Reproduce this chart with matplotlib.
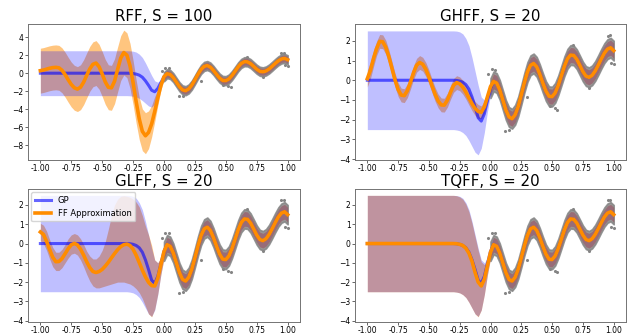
import numpy as np
import matplotlib
matplotlib.use('Agg')
import matplotlib.pyplot as plt

# grid: left half (no data) and right half (observed data)
x_left = np.linspace(-1, 0, 41)
x_right = np.linspace(0.025, 1, 40)

# shared posterior mean / data trend for x > 0
fit_right = [-0.06, -0.14, -0.49, -1.0, -1.51, -1.86, -1.95, -1.75, -1.33, -0.74,
             -0.12, 0.42, 0.76, 0.85, 0.68, 0.31, -0.14, -0.55, -0.81, -0.83,
             -0.64, -0.26, 0.22, 0.71, 1.09, 1.28, 1.26, 1.07, 0.76, 0.44,
             0.21, 0.15, 0.25, 0.47, 0.77, 1.09, 1.38, 1.58, 1.65, 1.5]
band_right = 0.38
cloud_spread = 0.5

# GP on the left half
gp_mean_left = [0] * 29 + [-0.01, -0.04, -0.1, -0.22, -0.45, -0.85, -1.35, -1.9,
                           -2.07, -1.7, -1.05, -0.4]
gp_hi_left = [2.5] * 29 + [2.49, 2.45, 2.35, 2.12, 1.75, 1.15, 0.45, -0.25,
                           -0.85, -1.0, -0.75, -0.1]
gp_lo_left = [-2.5] * 29 + [-2.52, -2.56, -2.65, -2.8, -3.05, -3.35, -3.65, -3.78,
                            -3.45, -2.65, -1.6, -0.75]

# feature approximations on the left half
rff_mean = [0.28, 0.35, 0.45, 0.55, 0.62, 0.65, 0.6, 0.32, -0.16, -0.73,
            -1.26, -1.63, -1.77, -1.56, -1.0, -0.24, 0.49, 0.99, 1.13, 0.72,
            -0.08, -0.97, -1.57, -1.63, -0.89, 0.43, 1.68, 2.3, 2.0, 0.83,
            -1.05, -3.18, -5.1, -6.48, -6.97, -6.6, -5.65, -4.26, -2.74, -1.35, -0.39]
rff_hi = [2.78, 2.85, 2.95, 3.05, 3.12, 3.15, 3.1, 2.82, 2.34, 1.77,
          1.24, 0.87, 0.73, 0.94, 1.5, 2.26, 2.99, 3.49, 3.63, 3.22,
          2.42, 1.53, 0.93, 0.87, 1.61, 2.93, 4.18, 4.8, 4.5, 3.33,
          1.42, -0.78, -2.7, -3.98, -4.4, -4.2, -3.6, -2.6, -1.8, -0.85, -0.05]
rff_lo = [-2.22, -2.15, -2.05, -1.95, -1.88, -1.85, -1.9, -2.18, -2.66, -3.23,
          -3.76, -4.13, -4.27, -4.06, -3.5, -2.74, -2.01, -1.51, -1.37, -1.78,
          -2.58, -3.47, -4.07, -4.13, -3.39, -2.07, -0.82, -0.2, -0.5, -1.67,
          -3.5, -5.58, -7.4, -8.63, -8.97, -8.4, -7.1, -5.4, -3.6, -1.9, -0.75]

ghff_mean = [0.08, 0.5, 1.1, 1.6, 1.97, 1.95, 1.67, 1.19, 0.6, 0.01,
             -0.47, -0.75, -0.78, -0.53, -0.1, 0.38, 0.76, 0.9, 0.81, 0.55,
             0.17, -0.28, -0.71, -1.05, -1.25, -1.26, -1.01, -0.62, -0.26, -0.12,
             -0.18, -0.35, -0.6, -0.9, -1.19, -1.43, -1.58, -1.62, -1.35, -0.84, -0.32]
ghff_hi = [0.5, 0.92, 1.52, 1.97, 2.32, 2.3, 2.02, 1.54, 0.95, 0.36,
           -0.12, -0.4, -0.43, -0.18, 0.25, 0.73, 1.11, 1.25, 1.16, 0.9,
           0.52, 0.07, -0.36, -0.7, -0.9, -0.91, -0.66, -0.27, 0.09, 0.23,
           0.17, 0.0, -0.25, -0.55, -0.84, -1.08, -1.23, -1.3, -1.05, -0.54, -0.02]
ghff_lo = [-0.34, 0.08, 0.68, 1.25, 1.62, 1.6, 1.32, 0.84, 0.25, -0.34,
           -0.82, -1.1, -1.13, -0.88, -0.45, 0.03, 0.41, 0.55, 0.46, 0.2,
           -0.18, -0.63, -1.06, -1.4, -1.6, -1.61, -1.36, -0.97, -0.61, -0.47,
           -0.53, -0.7, -0.95, -1.25, -1.54, -1.78, -1.93, -1.94, -1.65, -1.14, -0.62]

glff_mean = [0.6, 0.47, 0.12, -0.31, -0.71, -0.94, -0.93, -0.78, -0.53, -0.27,
             -0.065, 0.01, -0.07, -0.29, -0.6, -0.95, -1.25, -1.45, -1.5, -1.45,
             -1.34, -1.17, -0.97, -0.74, -0.52, -0.32, -0.16, -0.06, -0.03, -0.1,
             -0.3, -0.61, -0.99, -1.38, -1.73, -2.01, -2.18, -2.2, -1.79, -1.09, -0.41]
glff_hi = [1.05, 0.95, 0.65, 0.2, -0.2, -0.45, -0.45, -0.3, -0.05, 0.25,
           0.45, 0.52, 0.45, 0.25, -0.05, -0.4, -0.65, -0.8, -0.8, -0.65,
           -0.35, 0.1, 0.75, 1.45, 2.0, 2.3, 2.45, 2.48, 2.45, 2.4,
           2.3, 2.15, 1.9, 1.45, 0.9, 0.45, -0.1, -0.85, -1.0, -0.7, -0.1]
glff_lo = [0.15, 0.0, -0.35, -0.8, -1.2, -1.4, -1.4, -1.25, -1.0, -0.75,
           -0.55, -0.5, -0.6, -0.85, -1.2, -1.6, -1.95, -2.2, -2.3, -2.3,
           -2.25, -2.2, -2.15, -2.1, -2.05, -2.0, -2.0, -2.0, -2.05, -2.1,
           -2.2, -2.35, -2.55, -2.85, -3.25, -3.65, -3.8, -3.4, -2.6, -1.6, -0.8]

tqff_mean = [0] * 29 + [-0.01, -0.04, -0.1, -0.24, -0.5, -0.92, -1.5, -2.0,
                        -2.2, -1.85, -1.15, -0.45]
tqff_hi = [2.5] * 29 + [2.48, 2.42, 2.3, 2.05, 1.65, 1.05, 0.35, -0.35,
                        -0.95, -1.1, -0.8, -0.2]
tqff_lo = [-2.5] * 29 + [-2.52, -2.56, -2.65, -2.8, -3.05, -3.35, -3.65, -3.8,
                         -3.45, -2.65, -1.65, -0.8]

# a few stray observations outside the main cloud
out_x = [-0.02, 0.01, 0.04, 0.12, 0.15, 0.3, 0.48, 0.52, 0.54, 0.67, 0.8, 0.95, 0.97, 0.98, 1.0]
out_y = [0.3, 0.55, 0.54, -2.55, -2.5, -0.85, -1.3, -1.4, -1.5, 1.8, -0.4, 2.24, 2.28, 0.88, 0.83]

titles = ['RFF, S = 100', 'GHFF, S = 20', 'GLFF, S = 20', 'TQFF, S = 20']
ff_means = [rff_mean, ghff_mean, glff_mean, tqff_mean]
ff_his = [rff_hi, ghff_hi, glff_hi, tqff_hi]
ff_los = [rff_lo, ghff_lo, glff_lo, tqff_lo]
ylims = [(-9.67, 5.48), (-4.04, 2.85), (-4.07, 2.83), (-4.07, 2.83)]

W, H = 627, 336
fig = plt.figure(figsize=(W / 100, H / 100), dpi=100)
# axes boxes in pixels: left, top, width, height
boxes = [(28, 24, 272, 136), (355, 24, 271, 136),
         (28, 189, 272, 133), (355, 189, 271, 133)]

x_all = np.concatenate([x_left, x_right])
fit_r = np.array(fit_right)
gp_mean = np.concatenate([gp_mean_left, fit_r])
gp_hi = np.concatenate([gp_hi_left, fit_r + band_right])
gp_lo = np.concatenate([gp_lo_left, fit_r - band_right])
x_cloud = np.concatenate([[0.0], x_right])
y_cloud = np.concatenate([[gp_mean_left[-1]], fit_r])

gray = '#858585'
for i, (l, t, w, h) in enumerate(boxes):
    ax = fig.add_axes([l / W, 1 - (t + h) / H, w / W, h / H])

    ff_mean = np.concatenate([ff_means[i], fit_r])
    ff_hi = np.concatenate([ff_his[i], fit_r + band_right])
    ff_lo = np.concatenate([ff_los[i], fit_r - band_right])

    # observations
    ax.fill_between(x_cloud, y_cloud - cloud_spread, y_cloud + cloud_spread,
                    color=gray, lw=1.2, edgecolor=gray, alpha=0.85)
    ax.scatter(out_x, out_y, s=5, color=gray, lw=0)

    ax.fill_between(x_all, ff_lo, ff_hi, color='darkorange', alpha=0.5, lw=0)
    ax.fill_between(x_all, gp_lo, gp_hi, color='blue', alpha=0.25, lw=0)
    ax.plot(x_all, gp_mean, color='blue', alpha=0.6, lw=2.2, label='GP')
    ax.plot(x_all, ff_mean, color='darkorange', lw=2.6, label='FF Approximation')

    ax.set_xlim(-1.1, 1.1)
    ax.set_ylim(*ylims[i])
    ax.set_xticks([-1, -0.75, -0.5, -0.25, 0, 0.25, 0.5, 0.75, 1])
    ax.xaxis.set_major_formatter(matplotlib.ticker.FormatStrFormatter('%.2f'))
    ax.tick_params(labelsize=5.5, length=2.2, width=0.6, pad=1, color='0.3')
    for sp in ax.spines.values():
        sp.set_linewidth(0.7)
        sp.set_color('0.45')
    ax.set_title(titles[i], fontsize=10.8, pad=0.5)

    if i == 2:
        ax.legend(loc='upper left', fontsize=6, borderaxespad=0.4)

fig.savefig('out.png', dpi=100)
